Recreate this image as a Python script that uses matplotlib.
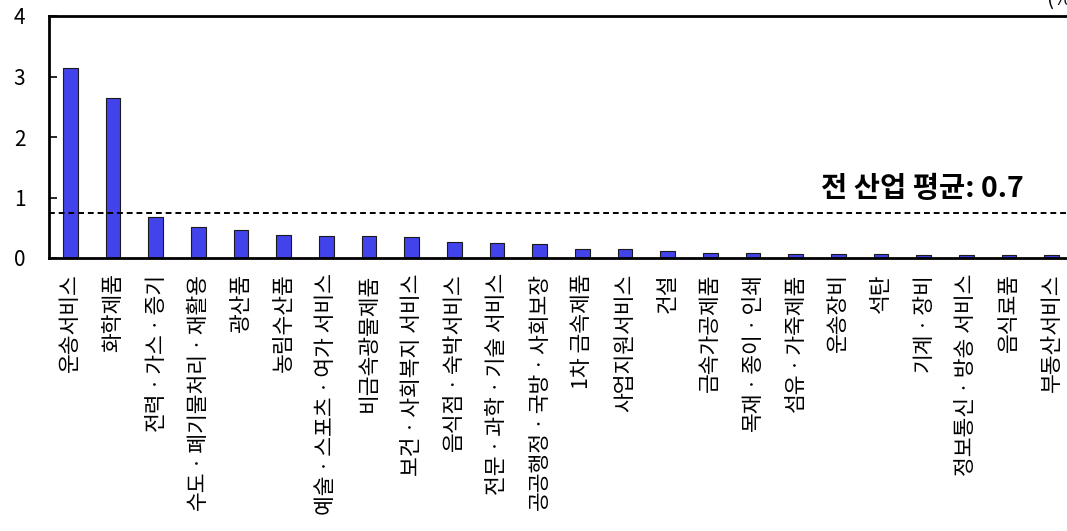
import matplotlib
matplotlib.use('Agg')
import matplotlib.pyplot as plt

plt.rcParams['font.family'] = ['Noto Sans CJK KR', 'DejaVu Sans']

# industry shares (%), sorted descending
industries = ['운송서비스', '화학제품', '전력ㆍ가스ㆍ증기', '수도ㆍ폐기물처리ㆍ재활용', '광산품',
              '농림수산품', '예술ㆍ스포츠ㆍ여가 서비스', '비금속광물제품', '보건ㆍ사회복지 서비스',
              '음식점ㆍ숙박서비스', '전문ㆍ과학ㆍ기술 서비스', '공공행정ㆍ국방ㆍ사회보장', '1차 금속제품',
              '사업지원서비스', '건설', '금속가공제품', '목재ㆍ종이ㆍ인쇄', '섬유ㆍ가죽제품', '운송장비',
              '석탄', '기계ㆍ장비', '정보통신ㆍ방송 서비스', '음식료품', '부동산서비스']
shares = [3.14, 2.65, 0.68, 0.51, 0.46, 0.38, 0.37, 0.37, 0.34, 0.27, 0.245, 0.23, 0.145,
          0.145, 0.12, 0.08, 0.08, 0.065, 0.06, 0.06, 0.055, 0.055, 0.045, 0.045]
all_avg = 0.74
yticks = [0, 1, 2, 3, 4]

fig = plt.figure(figsize=(10.67, 5.31), dpi=100)
ax = fig.add_axes([49 / 1067, 1 - 258 / 531, 1024 / 1067, 242 / 531])

x = range(len(industries))
ax.bar(x, shares, width=0.34, color='#4343EC', edgecolor='#1a1a1a', linewidth=0.8, zorder=2)
ax.axhline(all_avg, color='black', linewidth=1.4, linestyle=(0, (3, 2)), zorder=3)
ax.text(22.35, 1.0, f'전 산업 평균: {all_avg:.1f}', ha='right', va='baseline',
        fontsize=20.5, fontweight='bold')

ax.set_xlim(-0.5, len(industries) - 0.5)
ax.set_ylim(0, 4)
ax.set_yticks(yticks)
ax.set_xticks(list(x))
ax.set_xticklabels(industries, rotation=90, fontsize=15.5)

ax.tick_params(axis='y', direction='in', length=6, width=1.2, pad=17, labelsize=15)
ax.tick_params(axis='x', length=0, pad=11)

for s in ['left', 'top', 'bottom']:
    ax.spines[s].set_linewidth(2)
ax.spines['right'].set_visible(False)

fig.text(0.98, 0.9906, '(%)', ha='left', va='baseline', fontsize=15)

plt.savefig('out.png', dpi=100)
